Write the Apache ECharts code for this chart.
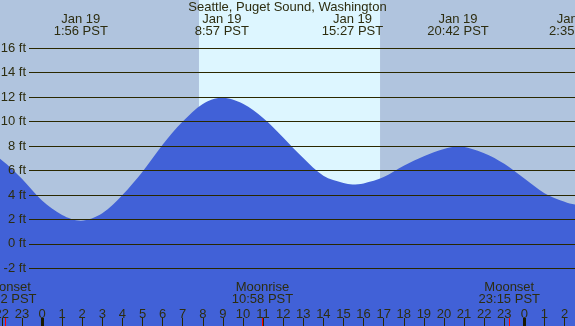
<!DOCTYPE html>
<html>
<head>
<meta charset="utf-8">
<script src="https://cdn.jsdelivr.net/npm/echarts@6/dist/echarts.min.js"></script>
<style>
  html, body { margin: 0; padding: 0; }
  #chart { width: 575px; height: 326px; }
</style>
</head>
<body>
<div id="chart"></div>
<script>
// tide curve, hours from midnight Jan 19 (PST) -> feet
const hours   = [-3, -2, -1, 0, 1, 1.93, 3, 4, 5, 6, 7, 8, 8.95, 10, 11, 12, 13, 14, 15, 15.45, 16, 17, 18, 19, 20, 20.7, 22, 23, 24, 25, 26, 26.58, 27];
const heights = [7.8, 6.85, 5.33, 3.55, 2.37, 1.9, 2.51, 4.0, 5.9, 8.1, 10.0, 11.45, 11.95, 11.47, 10.3, 8.71, 7.02, 5.57, 4.97, 4.86, 4.94, 5.46, 6.39, 7.16, 7.76, 7.96, 7.42, 6.55, 5.35, 4.15, 3.44, 3.22, 3.3];

const tickHours = [-2, -1, 0, 1, 2, 3, 4, 5, 6, 7, 8, 9, 10, 11, 12, 13, 14, 15, 16, 17, 18, 19, 20, 21, 22, 23, 24, 25, 26];
const midnights = [0, 24];

const sunrise = 7.81;
const sunset = 16.82;

const extremeTimes  = [1.93, 8.95, 15.45, 20.7, 26.58];
const extremeDates  = ['Jan 19', 'Jan 19', 'Jan 19', 'Jan 19', 'Jan 20'];
const extremeLabels = ['1:56 PST', '8:57 PST', '15:27 PST', '20:42 PST', '2:35 PST'];

const moonTimes  = [-1.8, 10.97, 23.25];
const moonNames  = ['Moonset', 'Moonrise', 'Moonset'];
const moonLabels = ['22:12 PST', '10:58 PST', '23:15 PST'];

const feetMin = -2, feetMax = 16, feetStep = 2;

const FONT = "'Liberation Sans', Arial, sans-serif";
const INK = '#2d2d10';
const LINE = '#2a2800';
const FS = 13;

function txt(x, y, s) {
    return {
        type: 'text', x: x, y: y,
        style: { text: s, fill: INK, font: FS + 'px ' + FONT, align: 'center', verticalAlign: 'middle' }
    };
}

let chart = echarts.init(document.getElementById('chart'), null, { renderer: 'canvas' });

let option = {
    animation: false,
    backgroundColor: '#b0c4de',
    title: {
        text: 'Seattle, Puget Sound, Washington',
        left: 'center', top: 0.5, padding: 0,
        textStyle: { fontFamily: FONT, fontSize: FS, fontWeight: 'normal', color: INK }
    },
    grid: [
        { left: 0, right: 0, top: 0, bottom: 0, outerBoundsMode: 'none', containLabel: false },
        { left: 29, right: 0, top: 48.3, bottom: 57.7, outerBoundsMode: 'none', containLabel: false }
    ],
    xAxis: [
        {
            type: 'value', gridIndex: 0, min: -2.09, max: 26.52, z: 3,
            axisLine: { show: false, onZero: false },
            splitLine: { show: false },
            axisTick: { show: true, inside: true, length: 8, customValues: tickHours, lineStyle: { color: LINE } },
            axisLabel: {
                show: true, inside: true, margin: 5, customValues: tickHours,
                color: INK, fontFamily: FONT, fontSize: FS,
                hideOverlap: false,
                formatter: v => String((v + 24) % 24)
            }
        },
        { type: 'value', gridIndex: 1, min: -2.09, max: 26.52, show: false }
    ],
    yAxis: [
        { type: 'value', gridIndex: 0, min: -6.72, max: 19.95, show: false },
        {
            type: 'value', gridIndex: 1, min: feetMin, max: feetMax, interval: feetStep, z: 3,
            axisLine: { show: false },
            axisTick: { show: false },
            splitLine: { show: true, lineStyle: { color: LINE, width: 1 } },
            axisLabel: { margin: 3, color: INK, fontFamily: FONT, fontSize: FS, formatter: '{value} ft' }
        }
    ],
    series: [
        {
            type: 'line', xAxisIndex: 0, yAxisIndex: 0, z: 2,
            data: hours.map((h, i) => [h, heights[i]]),
            smooth: 0.33, symbol: 'none',
            lineStyle: { width: 0 },
            areaStyle: { color: '#4161d7', opacity: 1, origin: 'start' },
            markArea: {
                silent: true,
                itemStyle: { color: '#ddf6ff' },
                data: [[{ xAxis: sunrise }, { xAxis: sunset }]]
            }
        },
        {
            type: 'custom', xAxisIndex: 0, yAxisIndex: 0, z: 4,
            data: extremeTimes.map(t => [t, 0]),
            renderItem: function (params, api) {
                let x = api.coord([api.value(0), 0])[0];
                let i = params.dataIndex;
                return { type: 'group', children: [txt(x, 19.5, extremeDates[i]), txt(x, 31.8, extremeLabels[i])] };
            }
        },
        {
            type: 'custom', xAxisIndex: 0, yAxisIndex: 0, z: 4,
            data: moonTimes.map(t => [t, 0]),
            renderItem: function (params, api) {
                let x = api.coord([api.value(0), 0])[0];
                let i = params.dataIndex;
                return { type: 'group', children: [
                    txt(x, 287.5, moonNames[i]),
                    txt(x, 299.5, moonLabels[i]),
                    { type: 'rect', shape: { x: Math.floor(x), y: 318, width: 1, height: 8 }, style: { fill: '#ff0000' } }
                ] };
            }
        },
        {
            type: 'custom', xAxisIndex: 0, yAxisIndex: 0, z: 4,
            data: midnights.map(t => [t, 0]),
            renderItem: function (params, api) {
                let x = api.coord([api.value(0), 0])[0];
                return { type: 'rect', shape: { x: Math.round(x - 1.5), y: 318, width: 3, height: 8 }, style: { fill: '#1a1a00' } };
            }
        }
    ]
};

chart.setOption(option);
</script>
</body>
</html>
